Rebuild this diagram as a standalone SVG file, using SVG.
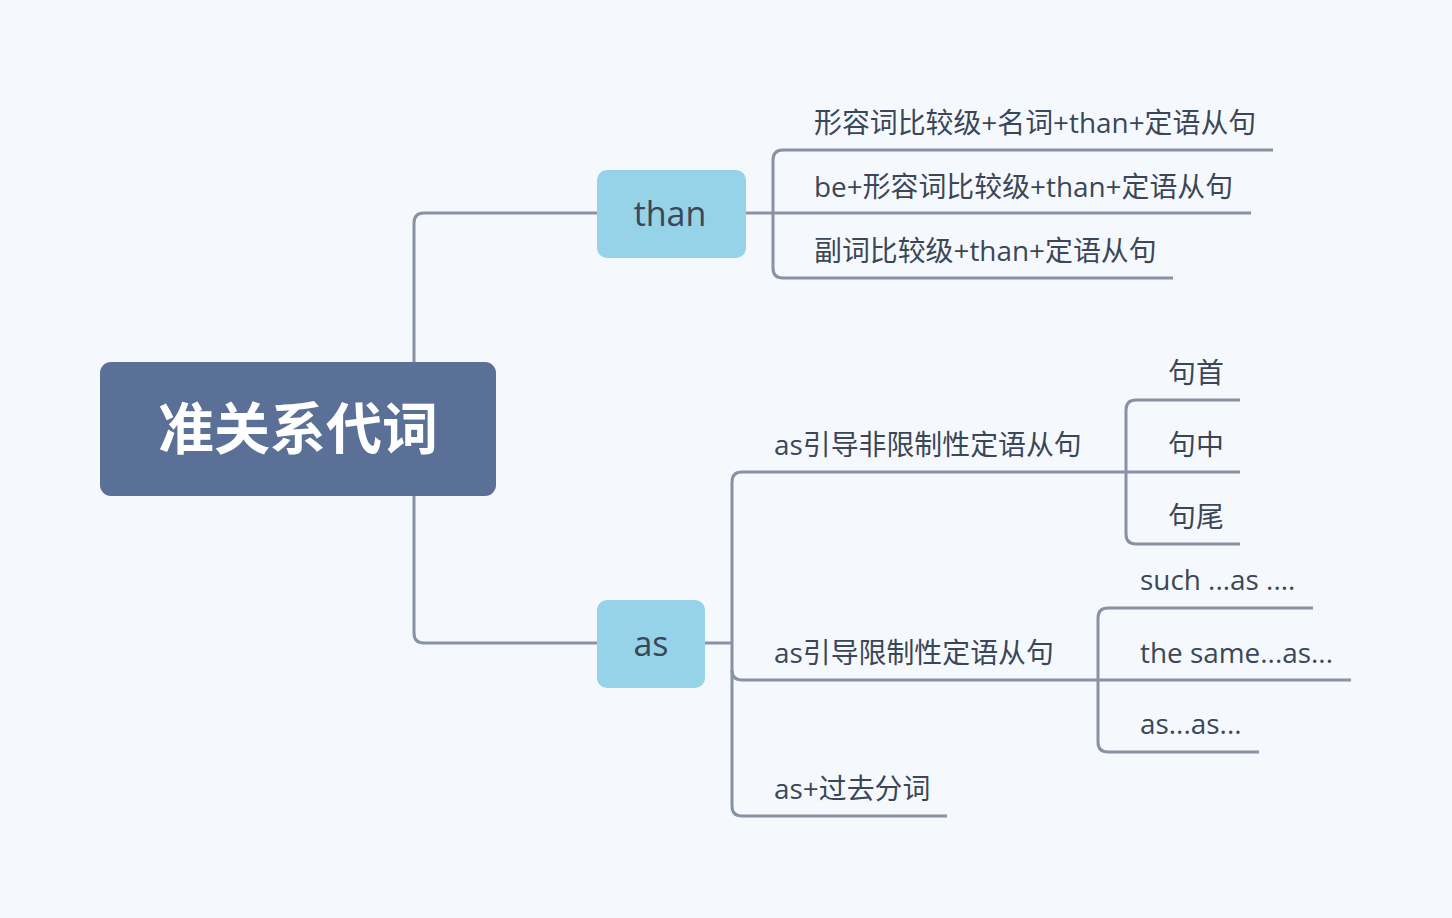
<svg xmlns="http://www.w3.org/2000/svg" width="1452" height="918" viewBox="0 0 1452 918">
<style>
.ln{fill:none;stroke:#8892A4;stroke-width:3}
.t{font-family:"Open Sans","Noto Sans CJK SC",sans-serif;font-size:27.9px;fill:#3B4656}
.n{font-family:"Open Sans","Noto Sans CJK SC",sans-serif;font-size:34px;fill:#3B4656;text-anchor:middle}
.root{font-family:"Noto Sans CJK SC",sans-serif;font-weight:700;font-size:56px;fill:#FFFFFF;text-anchor:middle}
.sub{fill:#96D2E8}
</style>
<rect width="1452" height="918" fill="#F5F9FE"/>
<g id="connectors">
<path class="ln" d="M414,362 V223 Q414,213 424,213 H597"/>
<path class="ln" d="M414,496 V633 Q414,643 424,643 H597"/>
<path class="ln" d="M746,213 H1251"/>
<path class="ln" d="M1273,150 H783 Q773,150 773,160 V268 Q773,278 783,278 H1173"/>
<path class="ln" d="M705,643 H732"/>
<path class="ln" d="M1240,472 H742 Q732,472 732,482 V806 Q732,816 742,816 H947"/>
<path class="ln" d="M732,670 Q732,680 742,680 H1351"/>
<path class="ln" d="M1240,400 H1136 Q1126,400 1126,410 V534 Q1126,544 1136,544 H1240"/>
<path class="ln" d="M1313,608 H1108 Q1098,608 1098,618 V742 Q1098,752 1108,752 H1259"/>
</g>
<g id="root">
<rect x="100" y="362" width="396" height="134" rx="11" fill="#5A7096"/>
<text class="root" x="298" y="449">准关系代词</text>
</g>
<g id="than">
<rect class="sub" x="597" y="170" width="149" height="88" rx="10"/>
<text class="n" x="670" y="226">than</text>
</g>
<g id="as">
<rect class="sub" x="597" y="600" width="108" height="88" rx="10"/>
<text class="n" x="651" y="656">as</text>
</g>
<g id="than-1"><text class="t" x="814" y="133">形容词比较级+名词+than+定语从句</text></g>
<g id="than-2"><text class="t" x="814" y="197">be+形容词比较级+than+定语从句</text></g>
<g id="than-3"><text class="t" x="814" y="261">副词比较级+than+定语从句</text></g>
<g id="as-1"><text class="t" x="774" y="455">as引导非限制性定语从句</text></g>
<g id="as-1-1"><text class="t" x="1168" y="383">句首</text></g>
<g id="as-1-2"><text class="t" x="1168" y="455">句中</text></g>
<g id="as-1-3"><text class="t" x="1168" y="527">句尾</text></g>
<g id="as-2"><text class="t" x="774" y="663">as引导限制性定语从句</text></g>
<g id="as-2-1"><text class="t" x="1140" y="590">such ...as ....</text></g>
<g id="as-2-2"><text class="t" x="1140" y="663">the same...as...</text></g>
<g id="as-2-3"><text class="t" x="1140" y="734">as...as...</text></g>
<g id="as-3"><text class="t" x="774" y="799">as+过去分词</text></g>
</svg>
